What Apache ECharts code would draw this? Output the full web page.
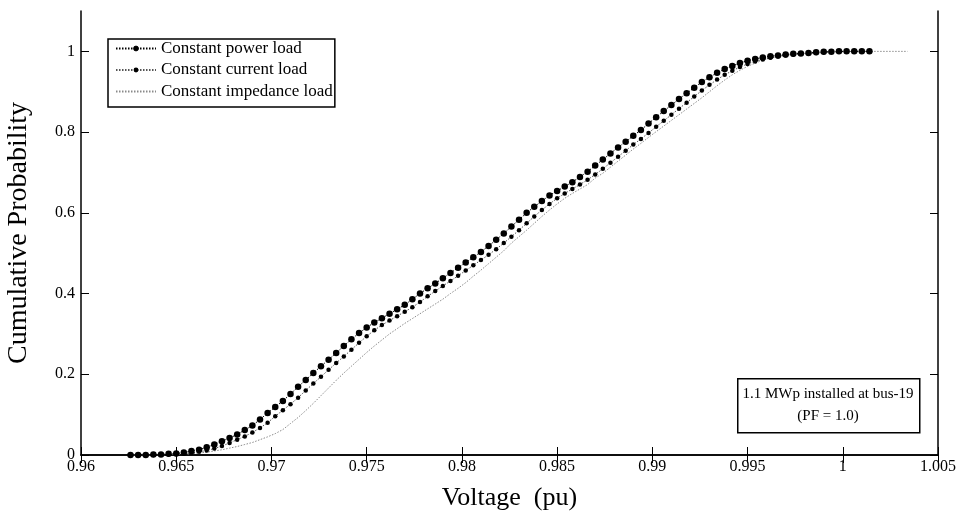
<!DOCTYPE html>
<html>
<head>
<meta charset="utf-8">
<script src="https://cdn.jsdelivr.net/npm/echarts@6/dist/echarts.min.js"></script>
<style>
  html, body { margin: 0; padding: 0; background: #fff; }
  #chart { width: 962px; height: 518px; }
</style>
</head>
<body>
<div id="chart"></div>
<script>
// Bus voltage sample points (pu)
const voltage = [
  0.9626, 0.9630, 0.9634, 0.9638, 0.9642, 0.9646, 0.9650, 0.9654, 0.9658, 0.9662,
  0.9666, 0.9670, 0.9674, 0.9678, 0.9682, 0.9686, 0.9690, 0.9694, 0.9698, 0.9702,
  0.9706, 0.9710, 0.9714, 0.9718, 0.9722, 0.9726, 0.9730, 0.9734, 0.9738, 0.9742,
  0.9746, 0.9750, 0.9754, 0.9758, 0.9762, 0.9766, 0.9770, 0.9774, 0.9778, 0.9782,
  0.9786, 0.9790, 0.9794, 0.9798, 0.9802, 0.9806, 0.9810, 0.9814, 0.9818, 0.9822,
  0.9826, 0.9830, 0.9834, 0.9838, 0.9842, 0.9846, 0.9850, 0.9854, 0.9858, 0.9862,
  0.9866, 0.9870, 0.9874, 0.9878, 0.9882, 0.9886, 0.9890, 0.9894, 0.9898, 0.9902,
  0.9906, 0.9910, 0.9914, 0.9918, 0.9922, 0.9926, 0.9930, 0.9934, 0.9938, 0.9942,
  0.9946, 0.9950, 0.9954, 0.9958, 0.9962, 0.9966, 0.9970, 0.9974, 0.9978, 0.9982,
  0.9986, 0.9990, 0.9994, 0.9998, 1.0002, 1.0006, 1.0010, 1.0014, 1.0018, 1.0022,
  1.0026, 1.0030, 1.0034
];

// Cumulative probability, constant power load
const powerLoad = [
  0, 0, 0, 0.001, 0.001, 0.003, 0.004, 0.006, 0.010, 0.013,
  0.019, 0.026, 0.034, 0.042, 0.051, 0.062, 0.073, 0.088, 0.104, 0.119,
  0.134, 0.151, 0.169, 0.186, 0.203, 0.220, 0.236, 0.253, 0.270, 0.287,
  0.302, 0.316, 0.328, 0.339, 0.350, 0.361, 0.372, 0.386, 0.400, 0.413,
  0.425, 0.438, 0.451, 0.464, 0.477, 0.490, 0.503, 0.518, 0.533, 0.549,
  0.566, 0.583, 0.600, 0.615, 0.629, 0.643, 0.654, 0.665, 0.676, 0.689,
  0.702, 0.717, 0.732, 0.747, 0.762, 0.776, 0.791, 0.805, 0.821, 0.837,
  0.852, 0.867, 0.882, 0.896, 0.910, 0.924, 0.936, 0.947, 0.956, 0.964,
  0.971, 0.977, 0.981, 0.985, 0.988, 0.990, 0.992, 0.994, 0.995, 0.996,
  0.998, 0.999, 0.999, 1, 1, 1, 1, 1
];

// Cumulative probability, constant current load
const currentLoad = [
  0, 0, 0, 0, 0.001, 0.001, 0.002, 0.003, 0.005, 0.008,
  0.011, 0.016, 0.022, 0.030, 0.038, 0.046, 0.056, 0.067, 0.080, 0.096,
  0.111, 0.126, 0.142, 0.160, 0.177, 0.194, 0.211, 0.228, 0.244, 0.261,
  0.278, 0.294, 0.309, 0.322, 0.333, 0.344, 0.355, 0.366, 0.379, 0.393,
  0.406, 0.419, 0.431, 0.444, 0.457, 0.470, 0.483, 0.496, 0.510, 0.525,
  0.541, 0.557, 0.574, 0.591, 0.607, 0.622, 0.636, 0.648, 0.659, 0.670,
  0.682, 0.695, 0.709, 0.724, 0.739, 0.754, 0.769, 0.783, 0.798, 0.813,
  0.828, 0.843, 0.858, 0.873, 0.888, 0.903, 0.917, 0.930, 0.942, 0.952,
  0.961, 0.969, 0.975, 0.980, 0.984, 0.987, 0.990, 0.992, 0.994, 0.995,
  0.996, 0.998, 0.999, 0.999, 1, 1, 1, 1
];

// Cumulative probability, constant impedance load
const impedanceLoad = [
  0, 0, 0, 0, 0, 0.001, 0.001, 0.002, 0.003, 0.005,
  0.007, 0.010, 0.013, 0.017, 0.021, 0.026, 0.031, 0.038, 0.045, 0.053,
  0.063, 0.078, 0.093, 0.110, 0.128, 0.147, 0.166, 0.185, 0.203, 0.220,
  0.237, 0.254, 0.270, 0.285, 0.300, 0.313, 0.326, 0.338, 0.350, 0.362,
  0.374, 0.386, 0.400, 0.413, 0.427, 0.443, 0.458, 0.474, 0.490, 0.506,
  0.525, 0.541, 0.557, 0.574, 0.591, 0.607, 0.622, 0.636, 0.648, 0.659,
  0.670, 0.686, 0.698, 0.713, 0.728, 0.743, 0.758, 0.772, 0.787, 0.801,
  0.815, 0.829, 0.843, 0.857, 0.871, 0.885, 0.900, 0.915, 0.929, 0.942,
  0.953, 0.963, 0.971, 0.978, 0.984, 0.988, 0.991, 0.993, 0.994, 0.995,
  0.996, 0.997, 0.998, 0.999, 0.999, 1, 1, 1, 1, 1,
  1, 1, 1
];

// Axis tick values
const xTicks = [0.96, 0.965, 0.97, 0.975, 0.98, 0.985, 0.99, 0.995, 1, 1.005];
const yTicks = [0, 0.2, 0.4, 0.6, 0.8, 1];

const seriesNames = ['Constant power load', 'Constant current load', 'Constant impedance load'];
const noteLines = ['1.1 MWp installed at bus-19', '(PF = 1.0)'];

const FONT = 'Liberation Serif';
const pairs = (ys) => ys.map((y, i) => [voltage[i], y]);

const chart = echarts.init(document.getElementById('chart'));

const frameAxis = {
  axisLine: { show: true, lineStyle: { color: '#000', width: 1.5 } },
  splitLine: { show: false }
};
const tickStyle = (values) => ({
  show: true, inside: true, length: 8, customValues: values,
  lineStyle: { color: '#000', width: 1 }
});

chart.setOption({
  backgroundColor: '#fff',
  animation: false,
  grid: { left: 81, right: 24, top: 11, bottom: 63, containLabel: false, outerBoundsMode: 'none' },
  xAxis: [
    Object.assign({}, frameAxis, {
      type: 'value', min: 0.96, max: 1.005, interval: 0.005,
      position: 'bottom',
      name: 'Voltage  (pu)', nameLocation: 'middle', nameGap: 30,
      nameTextStyle: { fontFamily: FONT, fontSize: 26, color: '#000' },
      axisTick: tickStyle(xTicks),
      axisLabel: {
        fontFamily: FONT, fontSize: 16, color: '#000', margin: 4,
        customValues: xTicks,
        formatter: (v) => String(parseFloat(v.toFixed(3)))
      }
    }),
    Object.assign({}, frameAxis, {
      type: 'value', min: 0.96, max: 1.005, interval: 0.005,
      position: 'top', axisLabel: { show: false },
      axisTick: tickStyle(xTicks)
    })
  ],
  yAxis: [
    Object.assign({}, frameAxis, {
      type: 'value', min: 0, max: 1.1, interval: 0.2,
      position: 'left',
      name: 'Cumulative Probability', nameLocation: 'middle', nameGap: 48,
      nameTextStyle: { fontFamily: FONT, fontSize: 28, color: '#000' },
      axisTick: tickStyle(yTicks),
      axisLabel: {
        fontFamily: FONT, fontSize: 16, color: '#000', margin: 6,
        customValues: yTicks,
        formatter: (v) => String(parseFloat(v.toFixed(1)))
      }
    }),
    Object.assign({}, frameAxis, {
      type: 'value', min: 0, max: 1.1, interval: 0.2,
      position: 'right', axisLabel: { show: false },
      axisTick: tickStyle(yTicks)
    })
  ],
  legend: {
    orient: 'vertical', left: 108, top: 39,
    backgroundColor: '#fff',
    borderColor: '#000', borderWidth: 1.5,
    padding: [1, 2, 7, 7],
    itemWidth: 40, itemHeight: 6, itemGap: 4.5,
    textStyle: { fontFamily: FONT, fontSize: 17, color: '#000' },
    data: [
      { name: seriesNames[0], itemStyle: { borderColor: '#000', borderWidth: 1 } },
      { name: seriesNames[1] },
      { name: seriesNames[2], itemStyle: { color: 'rgba(0,0,0,0)', borderWidth: 0 } }
    ]
  },
  graphic: [
    {
      type: 'rect', left: 737, top: 378,
      shape: { width: 182, height: 54 },
      style: { fill: '#fff', stroke: '#000', lineWidth: 1.5 },
      z: 10
    },
    {
      type: 'text', x: 828, y: 394, z: 11,
      style: { text: noteLines[0], fontFamily: FONT, fontSize: 15, fill: '#000', align: 'center', verticalAlign: 'middle' }
    },
    {
      type: 'text', x: 828, y: 416, z: 11,
      style: { text: noteLines[1], fontFamily: FONT, fontSize: 15, fill: '#000', align: 'center', verticalAlign: 'middle' }
    }
  ],
  series: [
    {
      name: seriesNames[2], type: 'line', data: pairs(impedanceLoad),
      showSymbol: false, symbol: 'none',
      lineStyle: { color: '#8a8a8a', width: 1, type: [1.5, 1.5] },
      itemStyle: { color: '#8a8a8a' },
      z: 2
    },
    {
      name: seriesNames[1], type: 'line', data: pairs(currentLoad),
      symbol: 'circle', symbolSize: 4.5,
      lineStyle: { color: '#555', width: 1, type: [1.5, 1.5] },
      itemStyle: { color: '#000' },
      z: 3
    },
    {
      name: seriesNames[0], type: 'line', data: pairs(powerLoad),
      symbol: 'circle', symbolSize: 6.5,
      lineStyle: { color: '#000', width: 1, type: [1.5, 1.5] },
      itemStyle: { color: '#000' },
      z: 4
    }
  ]
});
</script>
</body>
</html>
